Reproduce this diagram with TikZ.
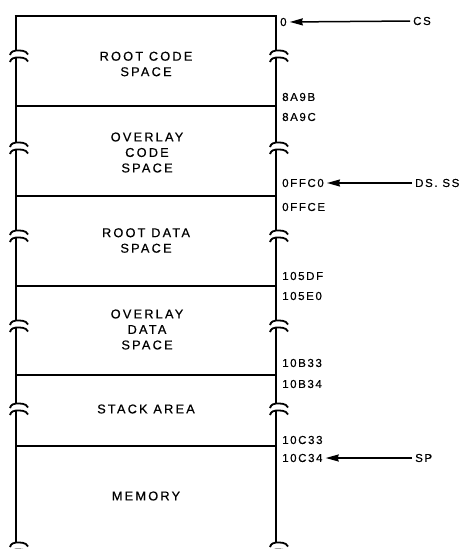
\documentclass[tikz,border=0pt]{standalone}
\usepackage{fontspec}
\setmainfont{Liberation Sans}
\newfontfamily\labfont{Liberation Sans}[LetterSpace=17, FakeBold=0.5]
\newfontfamily\adrfont{Liberation Sans}[LetterSpace=14, FakeBold=0.4]
\usetikzlibrary{arrows.meta}
\begin{document}
\begin{tikzpicture}[x=1pt,y=-1pt,
  lbl/.style={font=\labfont\fontsize{12.8}{15.5}\selectfont, align=center, inner sep=0pt},
  addr/.style={font=\adrfont\fontsize{11.5}{13}\selectfont, anchor=west, inner sep=0pt},
  wall/.style={line width=2.8pt},
  sepline/.style={line width=1.3pt},
  brk/.style={line width=1.8pt},
  arr/.style={line width=1.5pt, -{Stealth[length=13pt,width=7pt,inset=1pt]}, shorten <=3pt, shorten >=3pt},
  tld/.pic={\draw[brk] (-6,2.5) .. controls (-5,-1) and (-2,-2) .. (0,-2) .. controls (4,-2) and (10,-2.5) .. (12,2);}]
\useasboundingbox (0,0) rectangle (467,549);
% top line
\draw[wall] (14.6,16) -- (277.4,16);
% walls with break marks
\foreach \x in {16,276}{
  \foreach \a/\b in {14.5/56,56/148,148/236,236/326,326/409,409/548}{
    \draw[wall] (\x,\a+1.5) -- (\x,\b-5.5);
  }
  \foreach \y in {56,148,236,326,409,548}{
    \pic at (\x,\y-3.5) {tld};
    \pic at (\x,\y+3.5) {tld};
  }
}
% separators
\foreach \y in {106,196,286,375,446}{
  \draw[sepline] (16,\y) -- (276,\y);
}
% region labels
\node[lbl] (rcs) at (146,64) {ROOT CODE\\SPACE};
\node[lbl] (ocs) at (147,152.5) {OVERLAY\\CODE\\SPACE};
\node[lbl] (rds) at (146,240.5) {ROOT DATA\\SPACE};
\node[lbl] (ods) at (147,329.5) {OVERLAY\\DATA\\SPACE};
\node[lbl] (stk) at (146,409) {STACK AREA};
\node[lbl] (mem) at (146,496) {MEMORY};
% addresses
\node[addr] (a0) at (280,22) {0};
\node[addr] (a1) at (282,97) {8A9B};
\node[addr] (a2) at (282,117) {8A9C};
\node[addr] (a3) at (282,183) {0FFC0};
\node[addr] (a4) at (282,207) {0FFCE};
\node[addr] (a5) at (282,276) {105DF};
\node[addr] (a6) at (282,296) {105E0};
\node[addr] (a7) at (282,363) {10B33};
\node[addr] (a8) at (282,384) {10B34};
\node[addr] (a9) at (282,440) {10C33};
\node[addr] (a10) at (282,458) {10C34};
% pointers
\node[addr] (cs) at (413,21) {CS};
\node[addr] (dsss) at (415,183) {DS. SS};
\node[addr] (sp) at (415,458) {SP};
\draw[arr] (cs.west) -- (a0.east);
\draw[arr] (dsss.west) -- (a3.east);
\draw[arr] (sp.west) -- (a10.east);
\end{tikzpicture}
\end{document}
